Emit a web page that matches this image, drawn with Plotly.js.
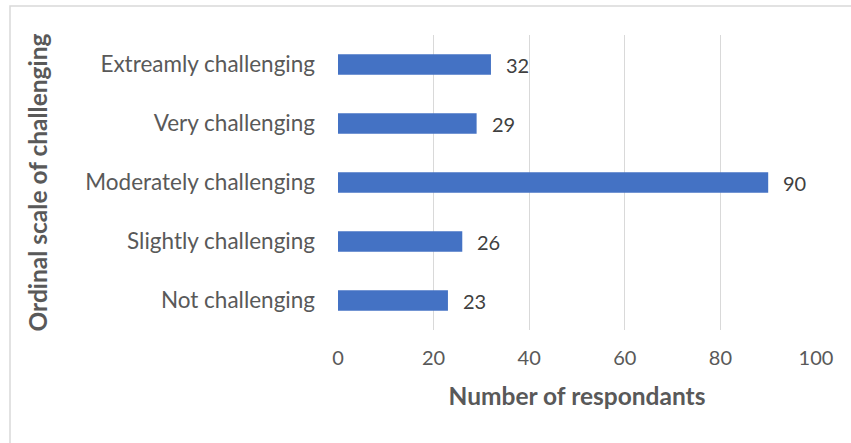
<!DOCTYPE html>
<html>
<head>
<meta charset="utf-8">
<script src="https://cdn.plot.ly/plotly-3.0.1.min.js"></script>
<style>html,body{margin:0;padding:0;background:#fff;}#chart{width:851px;height:443px;}</style>
</head>
<body>
<div id="chart"></div>
<script>
const categories = ["Not challenging", "Slightly challenging", "Moderately challenging", "Very challenging", "Extreamly challenging"];
const respondents = [23, 26, 90, 29, 32];
const xTicks = [0, 20, 40, 60, 80, 100];
const xTitle = "Number of respondants";
const yTitle = "Ordinal scale of challenging";

const FONT = "Lato, 'Open Sans', sans-serif";
const trace = {
  type: "bar",
  orientation: "h",
  y: categories,
  x: respondents,
  marker: {color: "#4472c4"},
  hoverinfo: "none"
};

const labels = categories.map((c, i) => ({
  x: respondents[i], y: c, xref: "x", yref: "y",
  text: String(respondents[i]), showarrow: false,
  xanchor: "left", yanchor: "middle", xshift: 13,
  font: {family: FONT, size: 20, color: "#404040"}
}));

const layout = {
  width: 851, height: 443,
  margin: {l: 338, r: 35, t: 35, b: 113},
  paper_bgcolor: "#ffffff",
  plot_bgcolor: "#ffffff",
  bargap: 0.65,
  showlegend: false,
  font: {family: FONT, size: 20, color: "#595959"},
  annotations: labels,
  xaxis: {
    range: [0, 100],
    tickvals: xTicks,
    ticktext: xTicks.map(String),
    showgrid: true, gridcolor: "#d9d9d9", gridwidth: 1,
    zeroline: false, showline: false,
    ticks: "", ticklabelstandoff: 14,
    tickfont: {family: FONT, size: 20, color: "#595959"},
    title: {text: xTitle, font: {family: FONT, size: 24.5, color: "#595959", weight: "bold"}, standoff: 19},
    fixedrange: true
  },
  yaxis: {
    type: "category",
    categoryorder: "array",
    categoryarray: categories,
    showgrid: false, zeroline: false, showline: false,
    ticks: "", ticklabelstandoff: 22,
    tickfont: {family: FONT, size: 22.5, color: "#595959"},
    title: {text: yTitle, font: {family: FONT, size: 24.5, color: "#595959", weight: "bold"}, standoff: 30},
    fixedrange: true
  },
  shapes: [{
    type: "rect", xref: "paper", yref: "paper",
    x0: -328/478, x1: 1.2, y0: -0.6, y1: 1 + 29/295,
    line: {color: "#d9d9d9", width: 1.5}, fillcolor: "rgba(0,0,0,0)", layer: "below"
  }]
};

Plotly.newPlot("chart", [trace], layout, {displayModeBar: false, staticPlot: true});
</script>
</body>
</html>
